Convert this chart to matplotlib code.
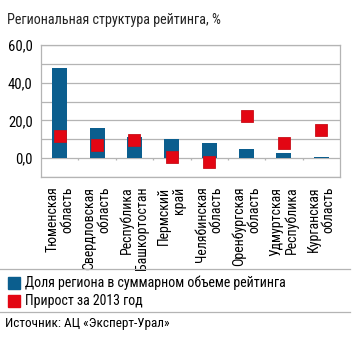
import matplotlib
matplotlib.use("Agg")
import matplotlib.pyplot as plt
from matplotlib.patches import Rectangle
from matplotlib.lines import Line2D

plt.rcParams['font.family'] = ['Roboto Condensed', 'DejaVu Sans']

regions = ["Тюменская\nобласть", "Свердловская\nобласть", "Республика\nБашкортостан",
           "Пермский\nкрай", "Челябинская\nобласть", "Оренбургская\nобласть",
           "Удмуртская\nРеспублика", "Курганская\nобласть"]
share = [48.0, 15.8, 11.1, 9.9, 7.8, 4.6, 2.7, 0.5]      # доля региона, %
growth = [11.7, 6.9, 9.4, 0.5, -1.9, 22.3, 7.8, 14.7]    # прирост за 2013 год, %
yticks = [0, 20, 40, 60]

blue = "#0b5e8e"
red = "#e30613"
grid = "#b4b4b4"

fig = plt.figure(figsize=(3.58, 3.37), dpi=100)
ax = fig.add_axes([41/358, 1-177/337, 299/358, 132/337])

x = range(len(regions))
ax.bar(x, share, width=0.4, color=blue, zorder=2)
ax.plot(x, growth, ls="none", marker="s", ms=8.6, mfc=red, mec="#c8101a", mew=0.6, zorder=3)

ax.set_xlim(-0.5, len(regions) - 0.5)
ax.set_ylim(-10, 60)
ax.set_yticks(yticks)
ax.set_yticklabels([f"{v:.1f}".replace(".", ",") for v in yticks], fontsize=10.5)
ax.set_yticks(range(-10, 61, 10), minor=True)
ax.tick_params(axis="y", which="both", length=0, pad=6)
ax.grid(axis="y", which="both", color=grid, lw=0.9, zorder=0)
# small ticks between categories on the zero line
ax.vlines([i + 0.5 for i in range(len(regions) - 1)], -1.2, 0, color=grid, lw=0.9, zorder=1)

ax.set_xticks(list(x))
ax.set_xticklabels(regions, rotation=90, fontsize=10, ha="center", va="top",
                   multialignment="right", linespacing=1.1)
ax.tick_params(axis="x", length=0, pad=7)
for s in ax.spines.values():
    s.set_color(grid)
    s.set_linewidth(0.9)

fig.text(7/358, 1-20/337, "Региональная структура рейтинга, %", fontsize=10.2,
         va="center", ha="left", color="#222222")

# legend block
fig.add_artist(Line2D([0, 350/358], [1-269/337]*2, color=grid, lw=0.9))
fig.add_artist(Line2D([0, 350/358], [1-312/337]*2, color=grid, lw=0.9))
fig.add_artist(Rectangle((8/358, 1-289/337), 12/358, 12/337, color=blue))
fig.add_artist(Rectangle((8/358, 1-307/337), 12/358, 12/337, color=red))
fig.text(25/358, 1-283/337, "Доля региона в суммарном объеме рейтинга", fontsize=10, va="center")
fig.text(25/358, 1-301/337, "Прирост за 2013 год", fontsize=10, va="center")
fig.text(5/358, 1-323/337, "Источник: АЦ «Эксперт-Урал»", fontsize=9.5, va="center")

fig.savefig("out.png", dpi=100)
